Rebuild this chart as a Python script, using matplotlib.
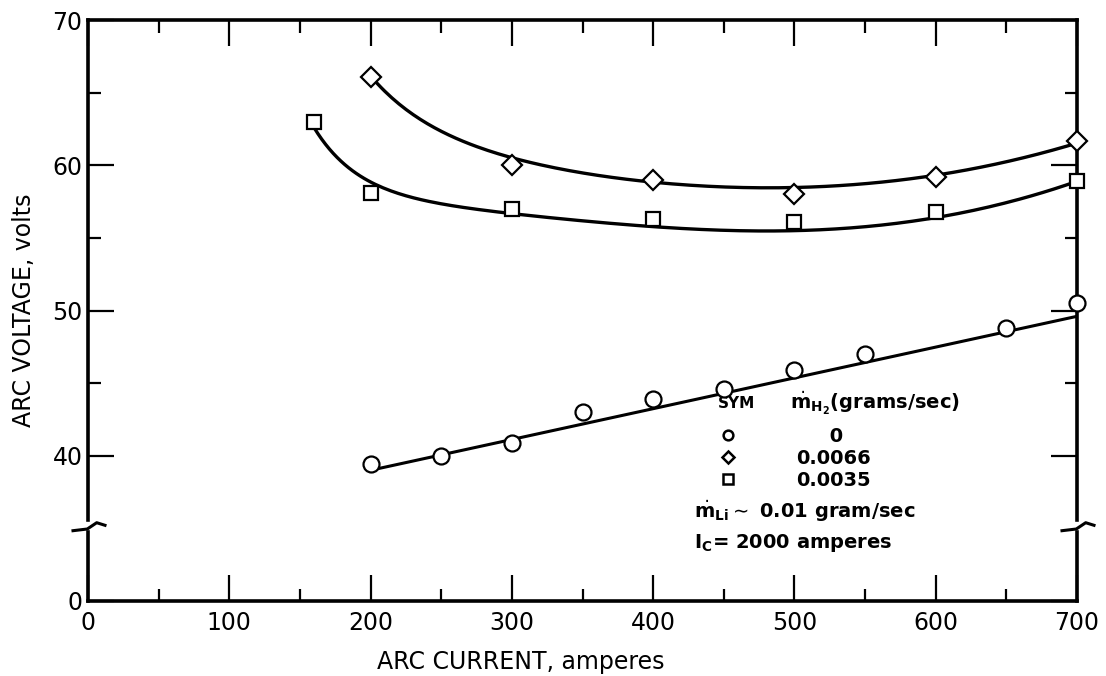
import numpy as np
import matplotlib.pyplot as plt
from matplotlib.lines import Line2D

# m_H2 = 0 (circles)
cur_h2_0 = [200, 250, 300, 350, 400, 450, 500, 550, 650, 700]
volt_h2_0 = [39.4, 40.0, 40.9, 43.0, 43.9, 44.6, 45.9, 47.0, 48.8, 50.5]
line_h2_0_x = [200, 700]
line_h2_0_y = [39.0, 49.6]

# m_H2 = 0.0066 (diamonds)
cur_h2_0066 = [200, 300, 400, 500, 600, 700]
volt_h2_0066 = [66.1, 60.0, 59.0, 58.0, 59.2, 61.7]
curve_0066_x = [200, 250, 300, 350, 400, 450, 500, 550, 600, 650, 700]
curve_0066_y = [66.1, 62.6, 60.2, 59.4, 59.0, 58.6, 58.5, 58.7, 59.2, 60.2, 61.6]

# m_H2 = 0.0035 (squares)
cur_h2_0035 = [160, 200, 300, 400, 500, 600, 700]
volt_h2_0035 = [63.0, 58.1, 57.0, 56.3, 56.1, 56.8, 58.9]
curve_0035_x = [160, 180, 200, 250, 300, 350, 400, 450, 500, 550, 600, 650, 700]
curve_0035_y = [62.6, 60.2, 58.8, 57.4, 56.7, 56.1, 55.8, 55.5, 55.5, 55.8, 56.4, 57.4, 58.9]

legend_labels = ['0', '0.0066', '0.0035']


def smooth_fit(xs, ys, n=200):
    # least squares fit with 1/x terms for the steep left end
    x = np.asarray(xs, float) / 100.0
    y = np.asarray(ys, float)
    basis = lambda t: np.column_stack([np.ones_like(t), 1 / t, 1 / t**2, t, t**2])
    coef, *_ = np.linalg.lstsq(basis(x), y, rcond=None)
    xf = np.linspace(x[0], x[-1], n)
    return xf * 100, basis(xf) @ coef


fig = plt.figure(figsize=(11.06, 6.76), dpi=100)
ax = fig.add_axes([88 / 1106, 1 - 601 / 676, 989 / 1106, 581 / 676])
ax.set_xlim(0, 700)
ax.set_ylim(30, 70)

mk = dict(mfc='white', mec='black', mew=1.6, ls='none', clip_on=False, zorder=5)

ax.plot(line_h2_0_x, line_h2_0_y, color='black', lw=2.2, zorder=3)
ax.plot(cur_h2_0, volt_h2_0, marker='o', ms=11.5, **mk)

fx, fy = smooth_fit(curve_0066_x, curve_0066_y)
ax.plot(fx, fy, color='black', lw=2.4, zorder=3)
ax.plot(cur_h2_0066, volt_h2_0066, marker='D', ms=10.5, **mk)

fx, fy = smooth_fit(curve_0035_x, curve_0035_y)
ax.plot(fx, fy, color='black', lw=2.4, zorder=3)
ax.plot(cur_h2_0035, volt_h2_0035, marker='s', ms=10.5, **mk)

# ticks
ax.set_xticks(np.arange(0, 701, 100))
ax.set_xticks(np.arange(50, 700, 100), minor=True)
ax.set_yticks([30, 40, 50, 60, 70])
ax.set_yticklabels(['0', '40', '50', '60', '70'])
ax.set_yticks([45, 55, 65], minor=True)
ax.tick_params(which='both', direction='in', top=True, right=True,
               width=1.6, labelsize=17, colors='black')
ax.tick_params(which='major', length=19, pad=7)
ax.tick_params(which='minor', length=9)
ax.tick_params(axis='y', pad=4)

for s in ['top', 'bottom']:
    ax.spines[s].set_linewidth(2.6)
ax.spines['left'].set_visible(False)
ax.spines['right'].set_visible(False)

# side spines with axis break
px = 1 / 989
py = 1 / 581
yb = (601 - 530) / 581
zig = np.array([(-15, -0.7), (-0.7, 1), (8.7, 7.3), (17, 4.7)])
for xa in (0, 1):
    ax.plot([xa, xa], [0, yb - 1.7 * py], transform=ax.transAxes, color='black',
            lw=2.6, clip_on=False, solid_capstyle='projecting')
    ax.plot([xa, xa], [yb + 10 * py, 1], transform=ax.transAxes, color='black',
            lw=2.6, clip_on=False, solid_capstyle='projecting')
    ax.plot(xa + zig[:, 0] * px, yb + zig[:, 1] * py, transform=ax.transAxes,
            color='black', lw=2.2, clip_on=False)

ax.set_xlabel('ARC CURRENT, amperes', fontsize=17, labelpad=8)
ax.xaxis.set_label_coords((521 - 88) / 989, -0.085)
ax.set_ylabel('ARC VOLTAGE, volts', fontsize=17, labelpad=12)

# key
ax.text(446, 43.6, 'SYM', fontsize=11, fontweight='bold', va='center')
ax.text(497, 43.6, r'$\dot{\mathbf{m}}_{\mathbf{H_2}}$(grams/sec)', fontsize=14,
        fontweight='bold', va='center')
handles = [Line2D([], [], marker='o', ms=7, mfc='white', mec='black', mew=1.8, ls='none'),
           Line2D([], [], marker='D', ms=6.5, mfc='white', mec='black', mew=1.8, ls='none'),
           Line2D([], [], marker='s', ms=7, mfc='white', mec='black', mew=1.8, ls='none')]
labels = ['     ' + legend_labels[0]] + legend_labels[1:]
ax.legend(handles, labels, loc='upper left', bbox_to_anchor=(446, 42.0),
          bbox_transform=ax.transData, frameon=False,
          handlelength=1.0, handletextpad=3.0, labelspacing=0.15, borderpad=0,
          borderaxespad=0, prop={'weight': 'bold', 'size': 14})
ax.text(429, 36.2, r'$\dot{\mathbf{m}}_{\mathbf{Li}}\sim$ 0.01 gram/sec', fontsize=14,
        fontweight='bold', va='center')
ax.text(429, 34.0, r'$\mathbf{I_C}$= 2000 amperes', fontsize=14,
        fontweight='bold', va='center')

fig.savefig('out.png', dpi=100)
